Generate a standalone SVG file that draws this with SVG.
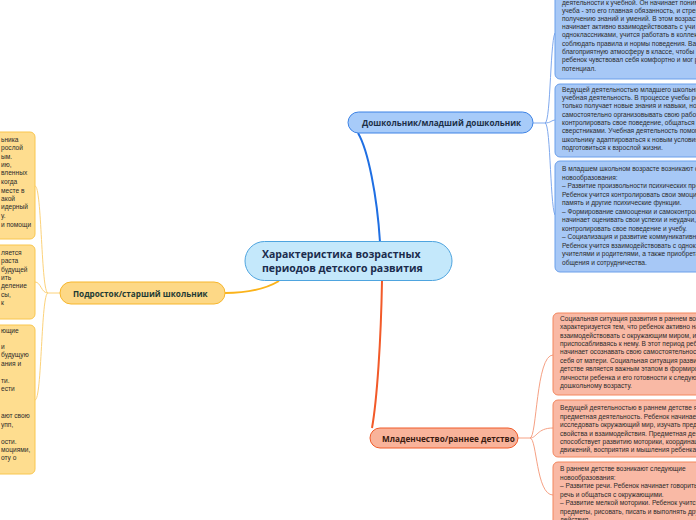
<svg xmlns="http://www.w3.org/2000/svg" width="696" height="520" viewBox="0 0 696 520">
<style>
.bt{font-family:"Liberation Sans",Arial,sans-serif;font-size:6.6px;fill:#2b2b2b}
.nt{font-family:"Open Sans","Noto Sans",sans-serif;font-weight:bold}
.yb{fill:#fedd8f;stroke:#f9c64f;stroke-width:1}
.bb{fill:#a7c8f6;stroke:#6b9fea;stroke-width:1}
.rb{fill:#f9b9a5;stroke:#f3875f;stroke-width:1}
.c{fill:none}
</style>
<rect width="696" height="520" fill="#ffffff"/>
<g id="connectors" class="c">
<path d="M380,242 C377,195 368,150 358,133" stroke="#1f6fe3" stroke-width="2"/>
<path d="M382,281 C381,340 377,400 372,428" stroke="#f25a29" stroke-width="2"/>
<path d="M279,281 C262,291 242,293 225,293" stroke="#fbb31a" stroke-width="2"/>
<g stroke="#7fa9ee" stroke-width="1">
<path d="M533,123 L545,123"/>
<path d="M545,123 C551,123 550,32 556,32"/>
<path d="M545,123 C551,123 551,120 556,120"/>
<path d="M545,123 C551,123 550,216 556,216"/>
</g>
<g stroke="#f6a184" stroke-width="1">
<path d="M518,438 L530,438"/>
<path d="M530,438 C537,438 536,355 553,355"/>
<path d="M530,438 C537,438 537,428 553,428"/>
<path d="M530,438 C537,438 536,495 553,495"/>
</g>
<g stroke="#fcd27a" stroke-width="1">
<path d="M60,293 L48,293"/>
<path d="M48,293 C41,293 42,186 35,186"/>
<path d="M48,293 C41,293 41,282 35,282"/>
<path d="M48,293 C41,293 42,400 35,400"/>
</g>
</g>
<g id="center">
<rect x="245" y="241.5" width="207" height="39" rx="19.5" fill="#c4e8fb" stroke="#4ea4df" stroke-width="1"/>
<text class="nt" font-size="10.5" fill="#1b2c4d"><tspan x="262" y="257.5">Характеристика возрастных</tspan><tspan x="262" y="271.5">периодов детского развития</tspan></text>
</g>
<g id="node-preschool">
<rect x="348" y="112" width="185" height="21" rx="10.5" fill="#a7cbf9" stroke="#3c82e5" stroke-width="1"/>
<text class="nt" font-size="8.2" fill="#1c2f47" x="362" y="126">Дошкольник/младший дошкольник</text>
</g>
<g id="node-teen">
<rect x="60" y="282" width="165" height="22" rx="11" fill="#fdd886" stroke="#f7b62c" stroke-width="1"/>
<text class="nt" font-size="8.2" fill="#1f3b34" x="73" y="297">Подросток/старший школьник</text>
</g>
<g id="node-infant">
<rect x="370" y="428" width="148" height="20" rx="10" fill="#f9b39a" stroke="#f05a28" stroke-width="1"/>
<text class="nt" font-size="8.2" fill="#3a1a10" x="382" y="442">Младенчество/раннее детство</text>
</g>
<g id="box-y1">
<rect class="yb" x="-100" y="132" width="135" height="107" rx="5"/>
<text class="bt"><tspan x="1" y="142">ьника</tspan><tspan x="1" y="150">рослой</tspan><tspan x="1" y="159">ым.</tspan><tspan x="1" y="167">ию,</tspan><tspan x="1" y="175">вленных</tspan><tspan x="1" y="184">когда</tspan><tspan x="1" y="193">месте в</tspan><tspan x="1" y="201">акой</tspan><tspan x="1" y="209">идерный</tspan><tspan x="1" y="218">у.</tspan><tspan x="1" y="227">и помощи</tspan></text>
</g>
<g id="box-y2">
<rect class="yb" x="-100" y="245" width="135" height="74" rx="5"/>
<text class="bt"><tspan x="1" y="255">ляется</tspan><tspan x="1" y="263">раста</tspan><tspan x="1" y="272">будущей</tspan><tspan x="1" y="280">ить</tspan><tspan x="1" y="288">деление</tspan><tspan x="1" y="297">сы,</tspan><tspan x="1" y="305">к</tspan></text>
</g>
<g id="box-y3">
<rect class="yb" x="-100" y="325" width="135" height="149" rx="5"/>
<text class="bt"><tspan x="1" y="333">ющие</tspan><tspan x="1" y="349">и</tspan><tspan x="1" y="357">будущую</tspan><tspan x="1" y="366">ания и</tspan><tspan x="1" y="383">ти.</tspan><tspan x="1" y="391">ести</tspan><tspan x="1" y="418">ают свою</tspan><tspan x="1" y="427">упп,</tspan><tspan x="1" y="444">ости.</tspan><tspan x="1" y="452">моциями,</tspan><tspan x="1" y="460">оту о</tspan></text>
</g>
<g id="box-b1">
<rect class="bb" x="555" y="-20" width="170" height="99" rx="5"/>
<text class="bt"><tspan x="562" y="5">деятельности к учебной. Он начинает поним</tspan><tspan x="562" y="13">учеба - это его главная обязанность, и стрем</tspan><tspan x="562" y="21">получению знаний и умений. В этом возраст</tspan><tspan x="562" y="29">начинает активно взаимодействовать с учи</tspan><tspan x="562" y="37">одноклассниками, учится работать в коллект</tspan><tspan x="562" y="46">соблюдать правила и нормы поведения. Важ</tspan><tspan x="562" y="54">благоприятную атмосферу в классе, чтобы ка</tspan><tspan x="562" y="62">ребенок чувствовал себя комфортно и мог ра</tspan><tspan x="562" y="71">потенциал.</tspan></text>
</g>
<g id="box-b2">
<rect class="bb" x="555" y="84" width="170" height="73" rx="5"/>
<text class="bt"><tspan x="562" y="92">Ведущей деятельностью младшего школьни</tspan><tspan x="562" y="100">учебная деятельность. В процессе учебы реб</tspan><tspan x="562" y="108">только получает новые знания и навыки, но</tspan><tspan x="562" y="117">самостоятельно организовывать свою работ</tspan><tspan x="562" y="125">контролировать свое поведение, общаться с</tspan><tspan x="562" y="133">сверстниками. Учебная деятельность помог</tspan><tspan x="562" y="142">школьнику адаптироваться к новым условия</tspan><tspan x="562" y="150">подготовиться к взрослой жизни.</tspan></text>
</g>
<g id="box-b3">
<rect class="bb" x="555" y="161" width="170" height="111" rx="5"/>
<text class="bt"><tspan x="562" y="171">В младшем школьном возрасте возникают с</tspan><tspan x="562" y="180">новообразования:</tspan><tspan x="562" y="188">– Развитие произвольности психических про</tspan><tspan x="562" y="197">Ребенок учится контролировать свои эмоци</tspan><tspan x="562" y="205">память и другие психические функции.</tspan><tspan x="562" y="214">– Формирование самооценки и самоконтрол</tspan><tspan x="562" y="222">начинает оценивать свои успехи и неудачи,</tspan><tspan x="562" y="231">контролировать свое поведение и учебу.</tspan><tspan x="562" y="239">– Социализация и развитие коммуникативн</tspan><tspan x="562" y="248">Ребенок учится взаимодействовать с однокл</tspan><tspan x="562" y="256">учителями и родителями, а также приобрета</tspan><tspan x="562" y="265">общения и сотрудничества.</tspan></text>
</g>
<g id="box-r1">
<rect class="rb" x="553" y="313" width="170" height="82" rx="5"/>
<text class="bt"><tspan x="560" y="321">Социальная ситуация развития в раннем возр</tspan><tspan x="560" y="329">характеризуется тем, что ребенок активно нач</tspan><tspan x="560" y="338">взаимодействовать с окружающим миром, исс</tspan><tspan x="560" y="346">приспосабливаясь к нему. В этот период ребен</tspan><tspan x="560" y="354">начинает осознавать свою самостоятельность</tspan><tspan x="560" y="363">себя от матери. Социальная ситуация развити</tspan><tspan x="560" y="371">детстве является важным этапом в формирова</tspan><tspan x="560" y="380">личности ребенка и его готовности к следующ</tspan><tspan x="560" y="388">дошкольному возрасту.</tspan></text>
</g>
<g id="box-r2">
<rect class="rb" x="553" y="400" width="170" height="57" rx="5"/>
<text class="bt"><tspan x="560" y="410">Ведущей деятельностью в раннем детстве явл</tspan><tspan x="560" y="419">предметная деятельность. Ребенок начинает а</tspan><tspan x="560" y="427">исследовать окружающий мир, изучать предме</tspan><tspan x="560" y="436">свойства и взаимодействия. Предметная деят</tspan><tspan x="560" y="444">способствует развитию моторики, координаци</tspan><tspan x="560" y="452">движений, восприятия и мышления ребенка.</tspan></text>
</g>
<g id="box-r3">
<rect class="rb" x="553" y="462" width="170" height="80" rx="5"/>
<text class="bt"><tspan x="560" y="471">В раннем детстве возникают следующие</tspan><tspan x="560" y="480">новообразования:</tspan><tspan x="560" y="488">– Развитие речи. Ребенок начинает говорить, п</tspan><tspan x="560" y="497">речь и общаться с окружающими.</tspan><tspan x="560" y="505">– Развитие мелкой моторики. Ребенок учится д</tspan><tspan x="560" y="514">предметы, рисовать, писать и выполнять друг</tspan><tspan x="560" y="522">действия.</tspan></text>
</g>
</svg>
